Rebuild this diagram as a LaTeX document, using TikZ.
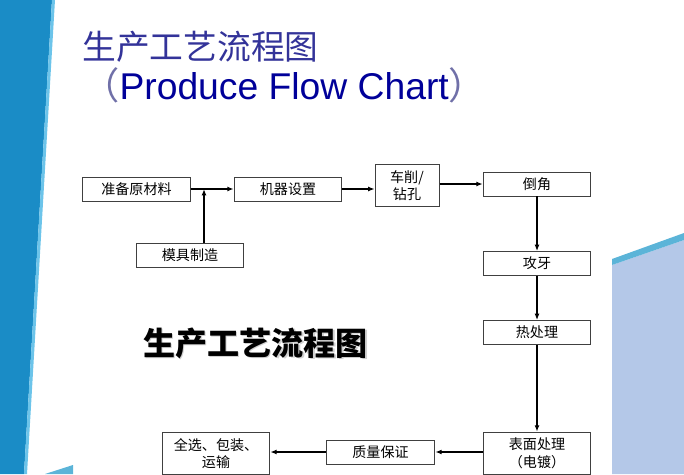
\documentclass[tikz,border=0pt]{standalone}
\usepackage{fontspec}
\setmainfont{Liberation Sans}
\newfontfamily\cjkfont{Noto Sans CJK SC}
\usetikzlibrary{arrows.meta}
\definecolor{PFBand}{HTML}{1A8CC6}
\definecolor{PFBandEdge}{HTML}{6CC4EA}
\definecolor{PFSky}{HTML}{B4C8E8}
\definecolor{PFCyan}{HTML}{5BB4D8}
\definecolor{PFTitle}{HTML}{333399}
\definecolor{PFNavy}{HTML}{000099}
\definecolor{PFParen}{HTML}{7070A8}
\definecolor{PFBoxLine}{HTML}{404040}
\definecolor{PFShadow}{HTML}{D0D0D0}

\tikzset{
  stepbox/.style={draw=PFBoxLine,line width=0.7pt,fill=white,inner sep=0pt,align=center,
    minimum width=2.69cm,minimum height=0.6cm,font=\cjkfont\fontsize{10}{12.5}\selectfont},
  tallbox/.style={stepbox,minimum height=1.07cm},
  flow/.style={draw=black,line width=0.8pt,-{Latex[length=4.5pt,width=3.5pt]}},
  bigtitle/.style={anchor=base west,inner sep=0pt,font=\cjkfont\bfseries\fontsize{22.8}{26}\selectfont},
}

\begin{document}
\begin{tikzpicture}[x=0.025cm,y=-0.025cm]
\path[use as bounding box] (0,0) rectangle (684,474);
% side decoration
\fill[PFBand] (0,0) -- (52,0) -- (24,474) -- (0,474) -- cycle;
\fill[PFBandEdge] (52,0) -- (55,0) -- (27,474) -- (24,474) -- cycle;
\fill[PFSky] (612,265) -- (684,240) -- (684,474) -- (612,474) -- cycle;
\fill[PFCyan] (612,259) -- (684,233) -- (684,240) -- (612,265) -- cycle;
\fill[PFCyan] (45,474) -- (73,465) -- (73,474) -- cycle;
% titles
\node[anchor=base west,inner sep=0pt,text=PFTitle,font=\cjkfont\fontsize{24}{28}\selectfont] (title) at (82,59) {生产工艺流程图};
\node[anchor=base west,inner sep=0pt,text=PFNavy,font=\fontsize{26.5}{30}\selectfont] (subtitle) at (82,99) {{\cjkfont\color{PFParen}（}Produce Flow Chart{\cjkfont\color{PFParen}）}};
\node[bigtitle,text=PFShadow] (bigshadow) at (144.5,356.5) {生产工艺流程图};
\node[bigtitle,text=black] (bigtitle) at (143,355) {生产工艺流程图};
% boxes
\node[stepbox] (prep) at (136.5,189) {准备原材料};
\node[stepbox] (setup) at (288,189) {机器设置};
\node[tallbox,minimum width=1.6cm] (turn) at (407,185.5) {车削/\\钻孔};
\node[stepbox] (chamfer) at (537,184) {倒角};
\node[stepbox] (mold) at (190,255) {模具制造};
\node[stepbox] (tap) at (537,263.5) {攻牙};
\node[stepbox] (heat) at (537,332.5) {热处理};
\node[tallbox] (plate) at (537,453.5) {表面处理\\（电镀）};
\node[stepbox,minimum width=2.72cm] (qa) at (380.5,452) {质量保证};
\node[tallbox] (pack) at (216,453.5) {全选、包装、\\运输};
% connectors
\coordinate (join) at (204,189);
\draw[flow,line width=1.5pt] (prep.east) -- (setup.west);
\draw[flow,line width=1.1pt] (mold.north -| join) -- (join);
\draw[flow] (setup.east) -- (setup.east -| turn.west);
\draw[flow] (turn.east |- chamfer.west) -- (chamfer.west);
\draw[flow] (chamfer.south) -- (tap.north);
\draw[flow] (tap.south) -- (heat.north);
\draw[flow] (heat.south) -- (plate.north);
\draw[flow] (plate.west |- qa.east) -- (qa.east);
\draw[flow] (qa.west) -- (pack.east |- qa.west);
\end{tikzpicture}
\end{document}
